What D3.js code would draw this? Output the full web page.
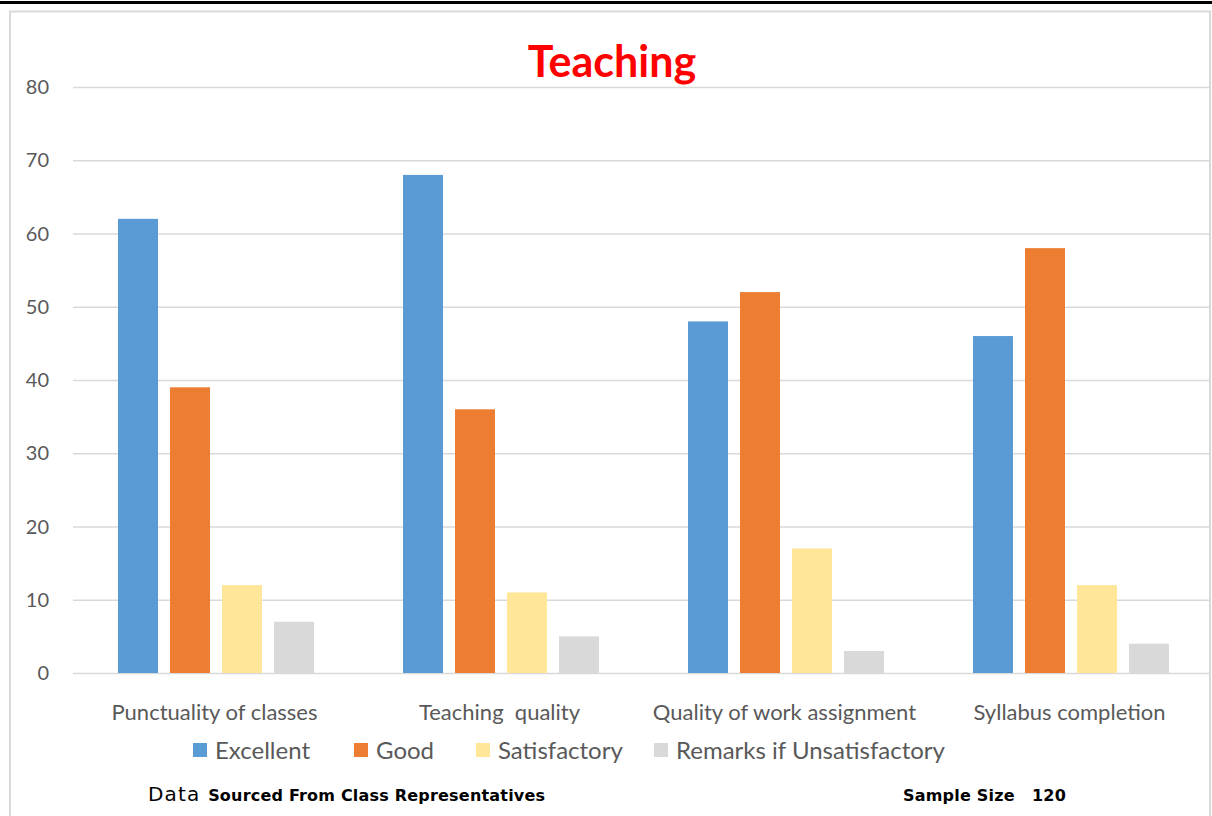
<!DOCTYPE html>
<html>
<head>
<meta charset="utf-8">
<script src="https://cdn.jsdelivr.net/npm/d3@7"></script>
<style>
  body { margin: 0; background: #fff; }
  svg { display: block; }
</style>
</head>
<body>
<div id="chart"></div>
<script>
// chart data
const categories = ['Punctuality of classes', 'Teaching  quality', 'Quality of work assignment', 'Syllabus completion'];
const seriesNames = ['Excellent', 'Good', 'Satisfactory', 'Remarks if Unsatisfactory'];
const seriesColors = ['#5B9BD5', '#ED7D31', '#FFE699', '#D9D9D9'];
const excellent = [62, 68, 48, 46];
const good = [39, 36, 52, 58];
const satisfactory = [12, 11, 17, 12];
const remarks = [7, 5, 3, 4];
const yTicks = [0, 10, 20, 30, 40, 50, 60, 70, 80];

const seriesValues = [excellent, good, satisfactory, remarks];

const width = 1212;
const height = 816;
const font = 'Lato, "Open Sans", sans-serif';
const footFont = '"DejaVu Sans", Verdana, sans-serif';

const svg = d3
  .select('#chart')
  .append('svg')
  .attr('width', width)
  .attr('height', height);

// outer frame
svg.append('rect')
  .attr('x', 10).attr('y', 11.5)
  .attr('width', 1200).attr('height', 820)
  .attr('fill', 'none')
  .attr('stroke', '#d9d9d9')
  .attr('stroke-width', 2);

svg.append('line')
  .attr('x1', 0).attr('x2', width)
  .attr('y1', 2.5).attr('y2', 2.5)
  .attr('stroke', '#000')
  .attr('stroke-width', 3);

// scales
const y = d3.scaleLinear().domain([0, 80]).range([673, 87]);
const x0 = d3.scaleBand().domain(categories).range([73, 1213]);
const x1 = d3.scaleBand()
  .domain(seriesNames)
  .range([39, 247])
  .paddingInner(12 / 52)
  .paddingOuter(6 / 52);

// gridlines
svg.append('g')
  .selectAll('line')
  .data(yTicks)
  .join('line')
  .attr('x1', 73).attr('x2', 1210)
  .attr('y1', (d) => y(d) + 0.5).attr('y2', (d) => y(d) + 0.5)
  .attr('stroke', '#d9d9d9')
  .attr('stroke-width', (d) => (d === 0 ? 1.5 : 1.3));

// y axis labels
svg.append('g')
  .selectAll('text')
  .data(yTicks)
  .join('text')
  .attr('x', 49)
  .attr('y', (d) => y(d))
  .attr('dy', '0.36em')
  .attr('text-anchor', 'end')
  .attr('font-family', font)
  .attr('font-size', 20)
  .attr('fill', '#595959')
  .text((d) => d);

// bars
const groups = svg.append('g')
  .selectAll('g')
  .data(categories)
  .join('g')
  .attr('transform', (d) => `translate(${x0(d)},0)`);

groups.selectAll('rect')
  .data((d, i) => seriesNames.map((s, j) => ({ s, j, v: seriesValues[j][i] })))
  .join('rect')
  .attr('x', (d) => x1(d.s))
  .attr('width', x1.bandwidth())
  .attr('y', (d) => y(d.v))
  .attr('height', (d) => y(0) - y(d.v))
  .attr('fill', (d) => seriesColors[d.j]);

// category labels
svg.append('g')
  .selectAll('text')
  .data(categories)
  .join('text')
  .attr('x', (d) => x0(d) + x0.bandwidth() / 2 - 1)
  .attr('y', 720)
  .attr('text-anchor', 'middle')
  .attr('font-family', font)
  .attr('font-size', 22)
  .attr('fill', '#595959')
  .style('white-space', 'pre')
  .text((d) => d);

// title
svg.append('text')
  .attr('x', 612)
  .attr('y', 77)
  .attr('text-anchor', 'middle')
  .attr('font-family', font)
  .attr('font-weight', 'bold')
  .attr('font-size', 43)
  .attr('fill', '#ff0000')
  .text('Teaching');

// legend
const legendX = [193, 354, 476, 654];
const legend = svg.append('g')
  .selectAll('g')
  .data(seriesNames)
  .join('g')
  .attr('transform', (d, i) => `translate(${legendX[i]},750)`);

legend.append('rect')
  .attr('x', 0).attr('y', -7)
  .attr('width', 14).attr('height', 14)
  .attr('fill', (d, i) => seriesColors[i]);

legend.append('text')
  .attr('x', 22)
  .attr('y', 0)
  .attr('dy', '0.36em')
  .attr('font-family', font)
  .attr('font-size', 24)
  .attr('fill', '#595959')
  .text((d) => d);

// footer notes
const foot = svg.append('text')
  .attr('x', 148)
  .attr('y', 801)
  .attr('font-family', footFont)
  .attr('fill', '#000');
foot.append('tspan').attr('font-size', 20).attr('letter-spacing', 1.2).text('Data ');
foot.append('tspan')
  .attr('font-size', 16)
  .attr('font-weight', 'bold')
  .attr('letter-spacing', 0.2)
  .text('Sourced From Class Representatives');

svg.append('text')
  .attr('x', 903)
  .attr('y', 801)
  .attr('font-family', footFont)
  .attr('font-size', 16)
  .attr('font-weight', 'bold')
  .attr('letter-spacing', 0.2)
  .attr('fill', '#000')
  .style('white-space', 'pre')
  .text('Sample Size   120');
</script>
</body>
</html>
